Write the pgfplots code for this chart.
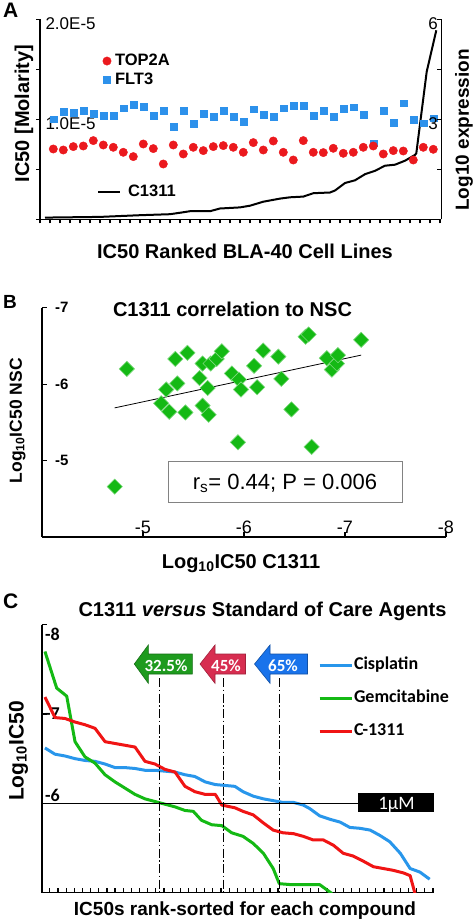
\documentclass[border=0pt]{standalone}
\usepackage{pgfplots}
\pgfplotsset{compat=1.18}
\usepackage{fontspec}
\setmainfont{Liberation Sans}
\newfontfamily\calibri{Carlito}
\newcommand\fsz[1]{\fontsize{#1pt}{#1pt}\selectfont}

\definecolor{topred}{RGB}{235,25,30}
\definecolor{fltblue}{RGB}{45,145,235}
\definecolor{dgreen}{RGB}{20,185,20}
\definecolor{cisblue}{RGB}{40,150,235}
\definecolor{gemgreen}{RGB}{20,185,20}
\definecolor{cred}{RGB}{240,20,20}
\definecolor{arrgreen}{RGB}{30,155,30}
\definecolor{arrred}{RGB}{215,45,80}
\definecolor{arrblue}{RGB}{25,115,235}

\newcommand{\blockarrow}[5]{%
 \filldraw[fill=#4, draw=#5, line width=0.6pt, line join=miter] (#1pt,-664pt) -- (#2pt,-645pt) -- (#2pt,-654pt) -- (#3pt,-654pt) -- (#3pt,-674pt) -- (#2pt,-674pt) -- (#2pt,-683.3pt) -- cycle;}

\begin{document}
\begin{tikzpicture}
\useasboundingbox (0pt,0pt) rectangle (476pt,-920pt);

%================ Panel A ================
\begin{axis}[
 at={(40pt,-219.3pt)}, anchor=south west, scale only axis,
 width=401.3pt, height=200pt,
 xmin=-0.33, xmax=39.8, ymin=0, ymax=2,
 axis x line*=bottom, axis y line*=left,
 axis line style={-, line width=1.6pt},
 xtick={-0.33,0.67,...,39.67}, xticklabels={},
 ytick={0,0.5,1,1.5,2}, yticklabels={,,1.0E-5,,2.0E-5},
 tick align=outside, major tick length=4pt,
 tick style={line width=1.2pt, black},
 yticklabel style={anchor=west, xshift=6pt, yshift=-4pt, font=\fsz{17}},
 clip=false,
 reverse legend,
 legend cell align=left,
 legend image code/.code={\path[draw=none,fill=none] (0pt,-5pt) rectangle (14pt,5pt); \draw[mark repeat=2,mark phase=2,#1] plot coordinates {(0pt,0pt) (7pt,0pt) (14pt,0pt)};},
 legend style={at={(axis cs:5.67,1.67)}, anchor=north west, draw=none, fill=none, inner sep=0pt, outer sep=0pt, row sep=1.5pt, font=\bfseries\fsz{16.5}, nodes={inner sep=1pt, text height=12pt, text depth=3.5pt}},
]
\addplot[only marks, mark=square*, mark size=3.4pt, color=fltblue] coordinates {
(1,1.0)(2,1.077)(3,1.067)(4,1.087)(5,1.053)(6,1.033)(7,1.033)(8,1.11)(9,1.143)(10,1.127)
(11,1.033)(12,1.087)(13,0.927)(14,1.083)(15,0.953)(16,1.053)(17,1.027)(18,1.087)(19,1.027)(20,0.977)
(21,1.10)(22,1.043)(23,1.027)(24,1.11)(25,1.137)(26,1.133)(27,1.033)(28,1.083)(29,1.027)(30,1.103)
(31,1.12)(32,1.043)(33,0.76)(34,1.087)(35,0.967)(36,1.16)(37,0.993)(38,0.96)(39,1.01)};
\addlegendentry{FLT3}
\addplot[only marks, mark=*, mark size=4.2pt, color=topred] coordinates {
(1,0.703)(2,0.693)(3,0.727)(4,0.733)(5,0.787)(6,0.743)(7,0.72)(8,0.67)(9,0.627)(10,0.753)
(11,0.707)(12,0.553)(13,0.743)(14,0.653)(15,0.72)(16,0.687)(17,0.727)(18,0.737)(19,0.72)(20,0.67)
(21,0.767)(22,0.693)(23,0.783)(24,0.67)(25,0.593)(26,0.787)(27,0.67)(28,0.667)(29,0.71)(30,0.66)
(31,0.67)(32,0.72)(33,0.733)(34,0.653)(35,0.687)(36,0.683)(37,0.593)(38,0.72)(39,0.70)};
\addlegendentry{TOP2A}
\addplot[black, line width=2pt, line join=round, forget plot] coordinates {
(0.17,0.017)(5.67,0.024)(9.67,0.041)(12.67,0.051)(13.84,0.068)(14.67,0.081)(16.67,0.081)(17.67,0.108)
(19.67,0.119)(20.67,0.136)(22.0,0.176)(23.67,0.207)(24.67,0.22)(26.0,0.227)(27.0,0.261)(28.67,0.268)
(29.17,0.288)(30.17,0.363)(31.17,0.39)(32.17,0.451)(33.17,0.485)(34.17,0.536)(35.17,0.546)(36.17,0.586)
(37.17,0.644)(37.3,0.66)(38.34,1.476)(39.3,1.89)};
\end{axis}

\begin{axis}[
 at={(40pt,-219.3pt)}, anchor=south west, scale only axis,
 width=401.3pt, height=200pt,
 xmin=-0.33, xmax=39.8, ymin=0, ymax=6,
 axis x line=none, axis y line*=right,
 axis line style={-, line width=1.6pt},
 ytick={0,1.5,3,4.5,6}, yticklabels={,,3,,6},
 ytick align=inside, major tick length=4pt, tick style={line width=1.2pt, black},
 yticklabel style={anchor=east, yshift=-4pt, font=\fsz{17}},
 legend cell align=left,
 legend image code/.code={\path[draw=none,fill=none] (0pt,-5pt) rectangle (22pt,5pt); \draw[#1] (0pt,0pt) -- (22pt,0pt);},
 legend style={at={(axis cs:5.37,1.0815)}, anchor=north west, draw=none, fill=none, inner sep=0pt, outer sep=0pt, column sep=6pt, font=\bfseries\fsz{16.5}, nodes={inner sep=1pt, text height=12pt, text depth=3.5pt}},
]
\addlegendimage{black, line width=2pt}
\addlegendentry{C1311}
\end{axis}

\node[anchor=base west, inner sep=0pt, font=\bfseries\fsz{21}] at (3pt,-18pt) {A};
\node[rotate=90, inner sep=0pt, font=\bfseries\fsz{20}] at (24pt,-113.5pt) {IC50 [Molarity]};
\node[rotate=90, inner sep=0pt, font=\bfseries\fsz{19}] at (464pt,-130pt) {Log10 expression};
\node[anchor=base, inner sep=0pt, font=\bfseries\fsz{20}] at (245pt,-258.3pt) {IC50 Ranked BLA-40 Cell Lines};

%================ Panel B ================
\begin{axis}[
 at={(42pt,-537.1pt)}, anchor=south west, scale only axis,
 width=404pt, height=229.4pt,
 xmin=-8, xmax=-4, ymin=-7, ymax=-4, x dir=reverse, y dir=reverse,
 axis x line*=bottom, axis y line*=left,
 axis line style={-, line width=1.6pt},
 xtick={-5,-6,-7,-8}, xticklabels={-5,-6,-7,-8},
 ytick={-7,-6,-5}, yticklabels={-7,-6,-5},
 tick align=inside, major tick length=5pt, tick style={line width=1.2pt, black},
 xticklabel style={anchor=south, font=\fsz{18}},
 yticklabel style={anchor=east, xshift=30pt, font=\bfseries\fsz{15}},
 clip=false,
]
\addplot[only marks, mark=square*, mark size=5.4pt, mark options={rotate=45, fill=dgreen, draw=dgreen!55!white, line width=0.6pt}] coordinates {
(-4.72,-4.66)(-4.84,-6.20)(-5.18,-5.75)(-5.23,-5.93)(-5.26,-5.64)(-5.32,-6.33)(-5.34,-6.01)
(-5.42,-5.63)(-5.44,-6.41)(-5.56,-6.08)(-5.59,-6.27)(-5.59,-5.72)(-5.64,-5.95)(-5.65,-5.60)
(-5.67,-6.27)(-5.73,-6.33)(-5.78,-6.43)(-5.88,-6.14)(-5.95,-6.06)(-5.97,-5.93)(-5.94,-5.24)
(-6.10,-6.24)(-6.13,-5.96)(-6.19,-6.44)(-6.34,-6.36)(-6.37,-6.07)(-6.47,-5.67)(-6.61,-6.62)
(-6.64,-6.65)(-6.67,-5.18)(-6.82,-6.34)(-6.87,-6.19)(-6.92,-6.27)(-6.93,-6.38)(-7.16,-6.58)};
\addplot[black, line width=0.8pt] coordinates {(-4.72,-5.69) (-7.16,-6.38)};
\end{axis}

\node[anchor=base west, inner sep=0pt, font=\bfseries\fsz{19}] at (3pt,-308pt) {B};
\node[anchor=base, inner sep=0pt, font=\bfseries\fsz{20}] at (232.5pt,-316pt) {C1311 correlation to NSC};
\node[anchor=base, inner sep=0pt, font=\bfseries\fsz{20}] at (241pt,-568.3pt) {Log\textsubscript{10}IC50 C1311};
\node[rotate=90, inner sep=0pt, font=\bfseries\fsz{17.5}] at (17.5pt,-420.8pt) {Log\textsubscript{10}IC50 NSC};
\draw[draw={rgb,255:red,130;green,130;blue,130}, line width=0.8pt] (168pt,-461pt) rectangle (402pt,-502pt);
\node[anchor=base, inner sep=0pt, font=\fsz{22}] at (285pt,-489.3pt) {r\textsubscript{s}= 0.44; P = 0.006};

%================ Panel C ================
\begin{axis}[
 at={(41.7pt,-892.6pt)}, anchor=south west, scale only axis,
 width=392.3pt, height=267.9pt,
 xmin=0, xmax=48.13, ymin=-8, ymax=-5, y dir=reverse,
 axis x line*=bottom, axis y line*=left,
 axis line style={-, line width=1.6pt},
 xtick={0,1,...,48}, xticklabels={},
 ytick={-8,-7,-6}, yticklabels={{\raisebox{-15.3pt}{-8}},{\raisebox{-5pt}{-7}},{\raisebox{1.6pt}{-6}}},
 tick align=inside, major tick length=5pt, tick style={line width=1.2pt, black},
 yticklabel style={anchor=base west, font=\calibri\bfseries\fsz{18}},
 legend cell align=left,
 legend image code/.code={\path[draw=none,fill=none] (0pt,-5pt) rectangle (32pt,5pt); \draw[#1] (0pt,0pt) -- (32pt,0pt);},
 legend style={at={(axis cs:33.9,-7.644)}, anchor=north west, draw=none, fill=none, inner sep=0pt, outer sep=0pt, row sep=16pt, column sep=1pt, font=\calibri\bfseries\fsz{18}, nodes={inner sep=0pt, text height=13pt, text depth=4pt}},
]
\addplot[cisblue, line width=3pt, line join=round] coordinates {
(0.4,-6.62)(1.63,-6.55)(2.86,-6.53)(4.09,-6.50)(5.31,-6.48)(6.54,-6.47)(7.77,-6.44)(8.99,-6.40)
(10.22,-6.40)(11.45,-6.39)(12.67,-6.37)(13.9,-6.37)(15.13,-6.36)(16.36,-6.35)(17.58,-6.32)(18.8,-6.30)
(20.05,-6.24)(21.3,-6.21)(22.5,-6.20)(23.7,-6.19)(24.7,-6.13)(25.96,-6.08)(27.2,-6.05)(28.4,-6.03)
(29.6,-6.01)(30.9,-6.01)(32.1,-5.98)(32.9,-5.94)(34.1,-5.86)(35.4,-5.82)(36.6,-5.79)(37.8,-5.73)
(39.05,-5.72)(40.3,-5.70)(41.5,-5.64)(42.7,-5.57)(44.0,-5.44)(45.2,-5.27)(46.4,-5.23)(47.6,-5.15)};
\addlegendentry{Cisplatin}
\addplot[gemgreen, line width=3pt, line join=round] coordinates {
(0.4,-7.70)(1.84,-7.29)(3.07,-7.20)(4.09,-6.69)(5.31,-6.52)(6.54,-6.45)(7.77,-6.32)(8.99,-6.24)
(10.22,-6.17)(11.45,-6.10)(12.67,-6.05)(13.9,-6.02)(15.13,-5.99)(16.36,-5.96)(17.58,-5.92)(18.6,-5.91)
(19.6,-5.81)(20.86,-5.76)(22.1,-5.75)(23.3,-5.67)(24.7,-5.63)(25.96,-5.55)(27.2,-5.44)(28.4,-5.27)
(29.15,-5.10)(30.5,-5.09)(34.1,-5.09)(35.6,-4.99)};
\addlegendentry{Gemcitabine}
\addplot[cred, line width=3pt, line join=round] coordinates {
(0.4,-7.19)(1.63,-6.96)(2.86,-6.95)(4.09,-6.91)(5.31,-6.88)(6.54,-6.84)(7.77,-6.69)(8.99,-6.67)
(10.22,-6.65)(11.45,-6.63)(12.67,-6.47)(13.9,-6.44)(15.13,-6.38)(16.36,-6.35)(17.58,-6.19)(18.8,-6.13)
(20.05,-6.10)(21.3,-6.10)(22.1,-5.98)(23.7,-5.95)(24.7,-5.91)(25.96,-5.87)(27.2,-5.78)(28.4,-5.70)
(29.6,-5.67)(30.9,-5.66)(32.1,-5.63)(33.3,-5.59)(34.55,-5.59)(35.8,-5.53)(37.0,-5.44)(38.2,-5.41)
(39.5,-5.35)(40.7,-5.29)(41.9,-5.27)(43.1,-5.25)(44.4,-5.22)(45.2,-5.19)(45.8,-4.99)};
\addlegendentry{C-1311}
\draw[line width=1.2pt] (axis cs:0,-6) -- (axis cs:38.85,-6);
\draw[dash pattern=on 9pt off 2.5pt on 1.5pt off 2.5pt, line width=1pt] (axis cs:14.43,-7.403) -- (axis cs:14.43,-5);
\draw[dash pattern=on 9pt off 2.5pt on 1.5pt off 2.5pt, line width=1pt] (axis cs:22.28,-7.403) -- (axis cs:22.28,-5);
\draw[dash pattern=on 9pt off 2.5pt on 1.5pt off 2.5pt, line width=1pt] (axis cs:29.15,-7.403) -- (axis cs:29.15,-5);
\end{axis}

\node[anchor=base west, inner sep=0pt, font=\bfseries\fsz{21}] at (3pt,-608pt) {C};
\node[anchor=base, inner sep=0pt, font=\bfseries\fsz{20}] at (262.5pt,-616pt) {C1311 \textit{versus} Standard of Care Agents};
\node[anchor=base, inner sep=0pt, font=\bfseries\fsz{19}] at (245pt,-915pt) {IC50s rank-sorted for each compound};
\node[rotate=90, inner sep=0pt, font=\bfseries\fsz{21}] at (18.5pt,-751pt) {Log\textsubscript{10}IC50};

\blockarrow{134.3}{148.3}{192.3}{arrgreen}{arrgreen!70!black}
\blockarrow{200}{215}{245.5}{arrred}{arrred!75!black}
\blockarrow{254.5}{270}{307.5}{arrblue}{arrblue!70!black}
\node[anchor=base, inner sep=0pt, text=white, font=\calibri\bfseries\fsz{17}] at (166pt,-671pt) {32.5\%};
\node[anchor=base, inner sep=0pt, text=white, font=\calibri\bfseries\fsz{17}] at (226pt,-671pt) {45\%};
\node[anchor=base, inner sep=0pt, text=white, font=\calibri\bfseries\fsz{17}] at (283pt,-671pt) {65\%};

\fill[black] (358.3pt,-792.7pt) rectangle (434pt,-812.3pt);
\node[anchor=base, inner sep=0pt, text=white, font=\calibri\fsz{19}] at (396.5pt,-809pt) {1µM};

\end{tikzpicture}
\end{document}
